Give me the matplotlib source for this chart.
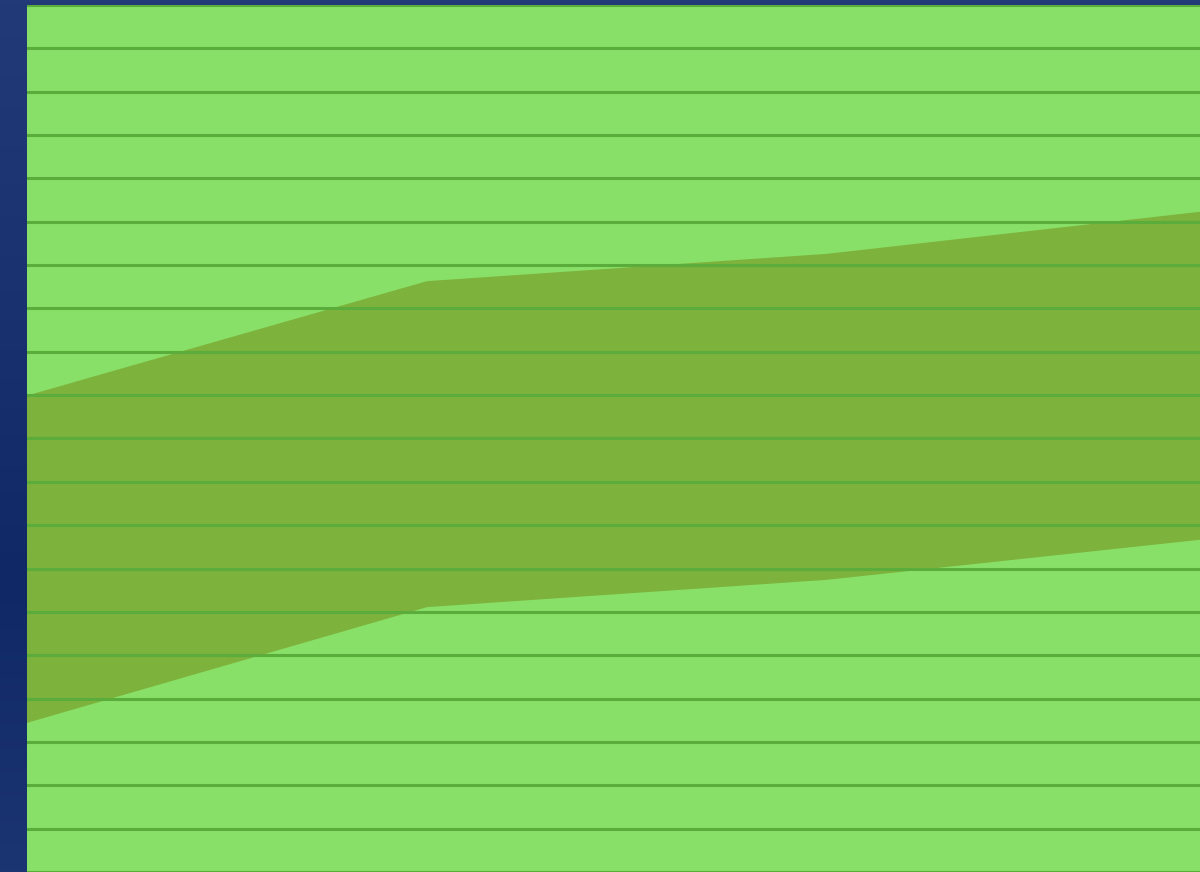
import numpy as np
import matplotlib.pyplot as plt
from matplotlib.colors import LinearSegmentedColormap

# data
x = [0, 1, 2, 3]
lower = [3.44, 6.11, 6.74, 7.73]
band = [7.55, 7.52, 7.52, 7.57]
upper = [l + b for l, b in zip(lower, band)]

fig = plt.figure(figsize=(12, 8.72), dpi=100)
fig.patch.set_facecolor('#213a78')

# blue backdrop, a little darker further down
bg = fig.add_axes([0, 0, 1, 1], zorder=0)
bg_cmap = LinearSegmentedColormap.from_list('bg', ['#223b78', '#1a3370', '#102866', '#1b3472'])
bg.imshow(np.linspace(0, 1, 256).reshape(-1, 1), cmap=bg_cmap, aspect='auto',
          extent=[0, 1, 0, 1])
bg.axis('off')

ax = fig.add_axes([27/1200, 0, 1173/1200, 867/872], zorder=1)
ax.set_facecolor('#88e068')

ax.fill_between(x, lower, upper, color='#7db33c', linewidth=0, zorder=1)

ax.set_xlim(0, 2.9325)
ax.set_ylim(0, 20)
ax.set_yticks(np.arange(0, 21, 1))
ax.yaxis.grid(True, color='#5aad3a', linewidth=2.2, zorder=2)
ax.set_axisbelow(False)
ax.tick_params(left=False, bottom=False, labelleft=False, labelbottom=False)
for s in ax.spines.values():
    s.set_visible(False)

plt.savefig('out.png', dpi=100, facecolor=fig.get_facecolor())
